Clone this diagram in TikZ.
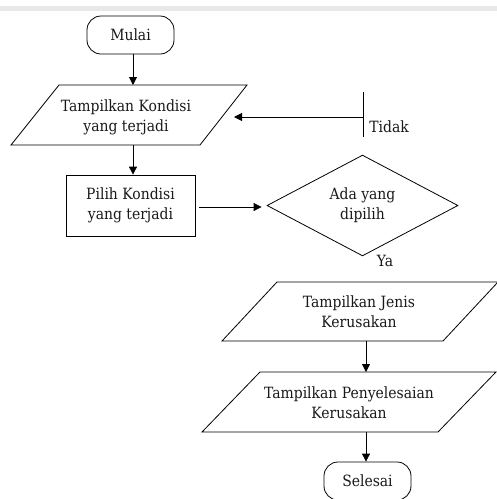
\documentclass[tikz,border=0pt]{standalone}
\usepackage{fontspec}
\setmainfont{DejaVu Serif Condensed}
\usetikzlibrary{arrows.meta,shapes.geometric}
\begin{document}
\begin{tikzpicture}[x=1pt,y=-1pt,
  line width=0.8pt,
  txt/.style={align=center,font=\fontsize{15.5}{20}\selectfont,inner sep=0pt,text=black!90},
  term/.style={txt,draw,rounded corners=14pt,minimum width=87pt,minimum height=38pt},
  proc/.style={txt,draw,minimum width=129pt,minimum height=61pt},
  decide/.style={txt,draw,diamond,minimum width=191pt,minimum height=89pt},
  io/.style={draw,line join=miter},
  flow/.style={-{Triangle[length=8pt,width=8pt]}}
]
\useasboundingbox (0,0) rectangle (497,499);
\clip (0,0) rectangle (497,499);
% thin grey band along the top edge
\fill[black!9] (0,6) rectangle (497,11);

% start
\node[term] (mulai) at (130.5,35) {Mulai};

% input/output: show conditions
\draw[io] (59,85) -- (247,85) -- (200,145) -- (11,145) -- cycle;
\node[txt] (kondisi) at (126,117) {Tampilkan Kondisi\\yang terjadi};
\coordinate (p1n) at (133,85);
\coordinate (p1s) at (133,145);
\coordinate (p1r) at (234,117);

% process: choose condition
\node[proc] (pilih) at (130.5,205.5) {Pilih Kondisi\\yang terjadi};

% decision
\node[decide] (ada) at (362.5,205.5) {Ada yang\\dipilih};

% "Tidak" branch marker
\coordinate (tkt) at (363,92);
\coordinate (tkb) at (363,137);
\coordinate (tk) at (363,117);
\node[txt,anchor=west] (tidak) at (369,127) {Tidak};
\node[txt] (ya) at (385,261) {Ya};

% input/output: show damage type
\draw[io] (277,282) -- (498,282) -- (443,341) -- (222,341) -- cycle;
\node[txt] (jenis) at (359,312) {Tampilkan Jenis\\Kerusakan};
\coordinate (p2s) at (366,341);

% input/output: show solution
\draw[io] (260,372) -- (496,372) -- (438,432) -- (202,432) -- cycle;
\node[txt] (solusi) at (349,402.5) {Tampilkan Penyelesaian\\Kerusakan};
\coordinate (p3n) at (366,372);
\coordinate (p3s) at (366,432);

% end
\node[term] (selesai) at (367.5,481) {Selesai};

% connectors
\draw[flow] (mulai.south -| p1n) -- (p1n);
\draw[flow] (p1s) -- (p1s |- pilih.north);
\draw[flow,shorten <=4pt,shorten >=5pt] (pilih.east |- 0,207) -- (ada.west |- 0,207);
\draw (tkt) -- (tkb);
\draw[flow] (tk) -- (p1r);
\draw[flow] (p2s) -- (p3n);
\draw[flow] (p3s) -- (p3s |- selesai.north);
\end{tikzpicture}
\end{document}
